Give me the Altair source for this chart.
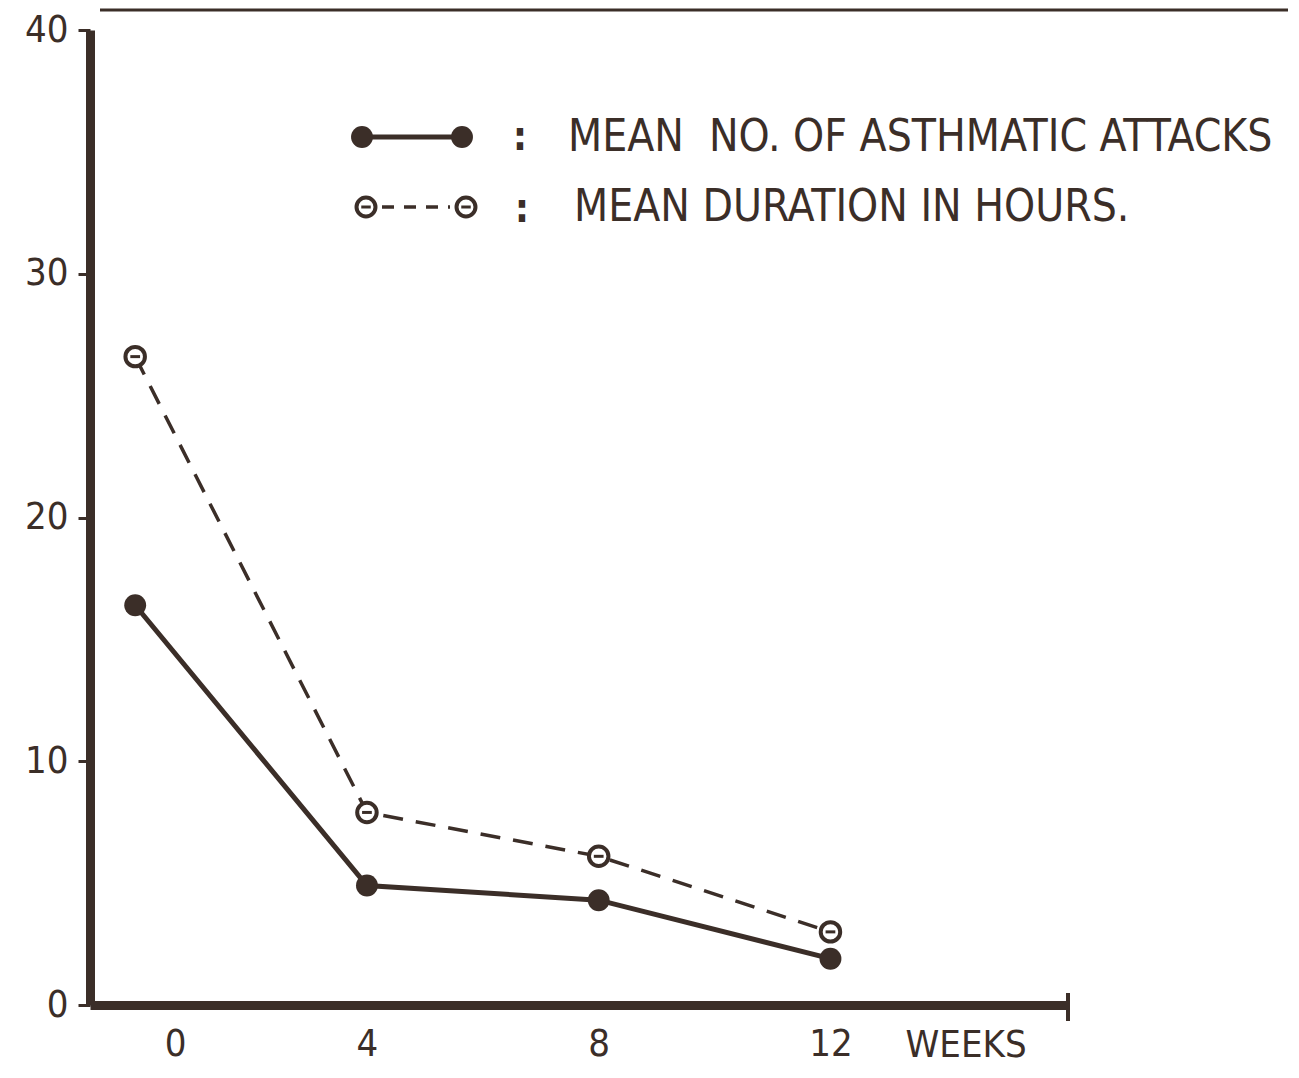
import altair as alt
import pandas as pd

# ---- data ----
weeks = [0, 4, 8, 12]
mean_attacks = [16.4, 4.9, 4.3, 1.9]
mean_duration = [26.6, 7.9, 6.1, 3.0]
y_ticks = [0, 10, 20, 30, 40]
x_ticks = [0, 4, 8, 12]
legend_labels = ["MEAN\u00a0\u00a0NO. OF ASTHMATIC ATTACKS", "MEAN DURATION IN HOURS."]

INK = "#3b2e28"
FONT = "Liberation Sans Narrow, DejaVu Sans Condensed, Liberation Sans, sans-serif"
W, H = 978, 975
XMIN, XMAX = -0.78, 16.1

df_a = pd.DataFrame({"week": weeks, "value": mean_attacks})
df_d = pd.DataFrame({"week": weeks, "value": mean_duration})

x_enc = alt.X(
    "week:Q",
    scale=alt.Scale(domain=[XMIN, XMAX], nice=False, zero=False),
    axis=alt.Axis(
        values=x_ticks, format="d", ticks=False, grid=False, domainColor=INK, domainWidth=9,
        labelFont=FONT, labelFontSize=38, labelColor=INK, labelPadding=20,
        labelOffset={"condition": {"test": "datum.value == 0", "value": 40}, "value": 0},
        title="WEEKS", titleFont=FONT, titleFontSize=38, titleFontWeight="normal",
        titleColor=INK, titleX=815, titleY=40, titleAlign="left", titleBaseline="middle",
    ),
)
y_enc = alt.Y(
    "value:Q",
    scale=alt.Scale(domain=[0, 40], nice=False),
    axis=alt.Axis(
        values=y_ticks, format="d", grid=False, domainColor=INK, domainWidth=9,
        tickColor=INK, tickSize=12, tickWidth=3,
        labelFont=FONT, labelFontSize=38, labelColor=INK, labelPadding=10,
        title=None,
    ),
)

line_a = alt.Chart(df_a).mark_line(color=INK, strokeWidth=5).encode(x=x_enc, y=y_enc)
pts_a = alt.Chart(df_a).mark_circle(color=INK, size=480, opacity=1).encode(x="week:Q", y="value:Q")

line_d = alt.Chart(df_d).mark_line(color=INK, strokeWidth=3.5, strokeDash=[20, 13]).encode(x="week:Q", y="value:Q")
pts_d = alt.Chart(df_d).mark_point(
    shape="circle", size=380, stroke=INK, strokeWidth=4, fill="white", filled=False, opacity=1, fillOpacity=1
).encode(x="week:Q", y="value:Q")
bar_d = alt.Chart(df_d).mark_point(
    shape="M-0.5,0L0.5,0", size=380, stroke=INK, strokeWidth=3, opacity=1
).encode(x="week:Q", y="value:Q")

# ---- hand-drawn style legend ----
leg = pd.DataFrame({"label": legend_labels, "row": [0, 1]})
leg1 = leg[leg.row == 0]
leg2 = leg[leg.row == 1]

lg_line = alt.Chart(leg1).mark_rule(color=INK, strokeWidth=5).encode(
    x=alt.value(272), x2=alt.value(372), y=alt.value(107))
lg_dot_l = alt.Chart(leg1).mark_circle(color=INK, size=480, opacity=1).encode(x=alt.value(272), y=alt.value(107))
lg_dot_r = alt.Chart(leg1).mark_circle(color=INK, size=480, opacity=1).encode(x=alt.value(372), y=alt.value(107))
lg_colon1 = alt.Chart(leg1).mark_text(text=":", font=FONT, fontSize=40, fontWeight="bold", color=INK,
                                      baseline="middle").encode(x=alt.value(430), y=alt.value(108))
lg_text1 = alt.Chart(leg1).mark_text(font=FONT, fontSize=44, color=INK, align="left", baseline="middle").encode(
    x=alt.value(478), y=alt.value(108), text="label:N")

lg_dash = alt.Chart(leg2).mark_rule(color=INK, strokeWidth=3.5, strokeDash=[12, 10]).encode(
    x=alt.value(292), x2=alt.value(360), y=alt.value(177))
lg_o_l = alt.Chart(leg2).mark_point(shape="circle", size=360, stroke=INK, strokeWidth=4, fill="white",
                                    filled=False, opacity=1, fillOpacity=1).encode(x=alt.value(276), y=alt.value(177))
lg_o_r = alt.Chart(leg2).mark_point(shape="circle", size=360, stroke=INK, strokeWidth=4, fill="white",
                                    filled=False, opacity=1, fillOpacity=1).encode(x=alt.value(376), y=alt.value(177))
lg_b_l = alt.Chart(leg2).mark_point(shape="M-0.5,0L0.5,0", size=360, stroke=INK, strokeWidth=3, opacity=1).encode(
    x=alt.value(276), y=alt.value(177))
lg_b_r = alt.Chart(leg2).mark_point(shape="M-0.5,0L0.5,0", size=360, stroke=INK, strokeWidth=3, opacity=1).encode(
    x=alt.value(376), y=alt.value(177))
lg_colon2 = alt.Chart(leg2).mark_text(text=":", font=FONT, fontSize=40, fontWeight="bold", color=INK,
                                      baseline="middle").encode(x=alt.value(432), y=alt.value(180))
lg_text2 = alt.Chart(leg2).mark_text(font=FONT, fontSize=44, color=INK, align="left", baseline="middle").encode(
    x=alt.value(484), y=alt.value(178), text="label:N")

# decorations: top border line of the scanned page, end tick of the x axis
top_rule = alt.Chart(leg1).mark_rule(color=INK, strokeWidth=3).encode(
    x=alt.value(10), x2=alt.value(1209), y=alt.value(-20))
end_tick = alt.Chart(leg1).mark_rule(color=INK, strokeWidth=4).encode(
    x=alt.value(W), y=alt.value(H - 12), y2=alt.value(H + 16))

chart = alt.layer(
    line_d, line_a, pts_a, pts_d, bar_d,
    lg_line, lg_dot_l, lg_dot_r, lg_colon1, lg_text1,
    lg_dash, lg_o_l, lg_o_r, lg_b_l, lg_b_r, lg_colon2, lg_text2,
    top_rule, end_tick,
).properties(
    width=W, height=H,
    autosize=alt.AutoSizeParams(type="none"),
    padding={"left": 82, "top": 22, "right": 220, "bottom": 65},
    background="white",
).configure_view(stroke=None)

chart.save("out.html", embed_options={"renderer": "svg", "actions": False})
